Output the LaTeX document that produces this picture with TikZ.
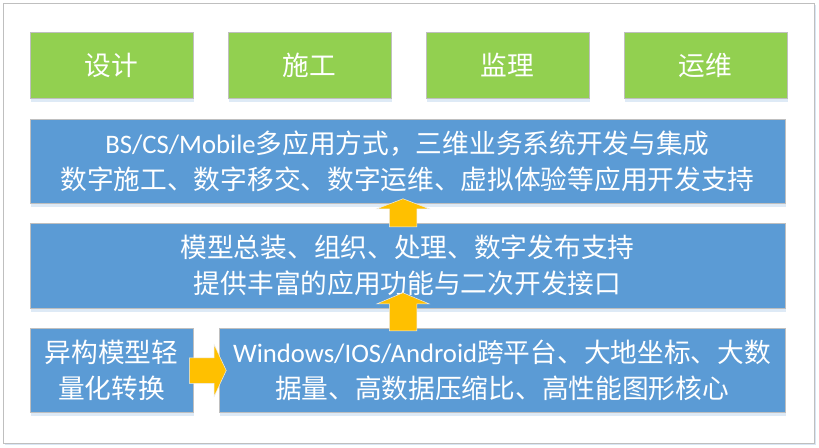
\documentclass[tikz,border=0pt]{standalone}
\usepackage{fontspec}
\setmainfont{Noto Sans CJK SC}
\newfontfamily\latin{Carlito}
\usetikzlibrary{shapes.arrows,shadows}
\definecolor{stagegreen}{HTML}{92D050}
\definecolor{layerblue}{HTML}{5B9BD5}
\definecolor{edgegrey}{HTML}{BFBFBF}
\definecolor{arrowfill}{HTML}{FFC000}
\definecolor{glow}{HTML}{C9DCF0}
\begin{document}
\begin{tikzpicture}[x=1pt,y=-1pt,
    box/.style={draw=edgegrey,line width=1pt,text=white,inner sep=0pt,
      align=center,font=\fontsize{26.7}{36}\selectfont,
      drop shadow={shadow xshift=1pt,shadow yshift=-4pt,fill=glow,opacity=.6}},
    stage/.style={box,fill=stagegreen,minimum width=163pt,minimum height=66pt},
    layer/.style={box,fill=layerblue,minimum height=84pt},
    blockarrow/.style={single arrow,fill=arrowfill,draw=white!85!gray,line width=.5pt,
      inner xsep=0pt,single arrow head indent=0pt,anchor=tail}]
  \useasboundingbox (0,0) rectangle (819,447);
  \node[draw=edgegrey,line width=1pt,fill=white,minimum width=811pt,minimum height=440pt,
    drop shadow={shadow xshift=2pt,shadow yshift=-2pt,fill=glow,opacity=.7}]
    (frame) at (408.5,223) {};
  \draw
    (111.5,65) node[stage] (design){设计}
    (309.5,65) node[stage] (build){施工}
    (507.5,65) node[stage] (supervise){监理}
    (705.5,65) node[stage] (operate){运维}
    (407.5,161) node[layer,minimum width=755pt] (app){{\latin BS/CS/Mobile}多应用方式，三维业务系统开发与集成\\数字施工、数字移交、数字运维、虚拟体验等应用开发支持}
    (407.5,265.5) node[layer,minimum width=755pt,minimum height=85pt] (service){模型总装、组织、处理、数字发布支持\\提供丰富的应用功能与二次开发接口}
    (111.5,370) node[layer,minimum width=163pt] (convert){异构模型轻\\量化转换}
    (502,370) node[layer,minimum width=566pt] (core){{\latin Windows/IOS/Android}跨平台、大地坐标、大数\\据量、高数据压缩比、高性能图形核心};
  % block arrows between the layers
  \node[blockarrow,rotate=90,minimum height=28pt,inner ysep=13.5pt,
    single arrow head extend=12.5pt,single arrow tip angle=138] (up1) at (403,227) {};
  \node[blockarrow,rotate=90,minimum height=38pt,inner ysep=13.5pt,
    single arrow head extend=12.5pt,single arrow tip angle=134] (up2) at (403,331) {};
  \node[blockarrow,minimum height=37pt,inner ysep=12.5pt,
    single arrow head extend=13pt,single arrow tip angle=130] (right1) at (189,370.5) {};
\end{tikzpicture}
\end{document}
